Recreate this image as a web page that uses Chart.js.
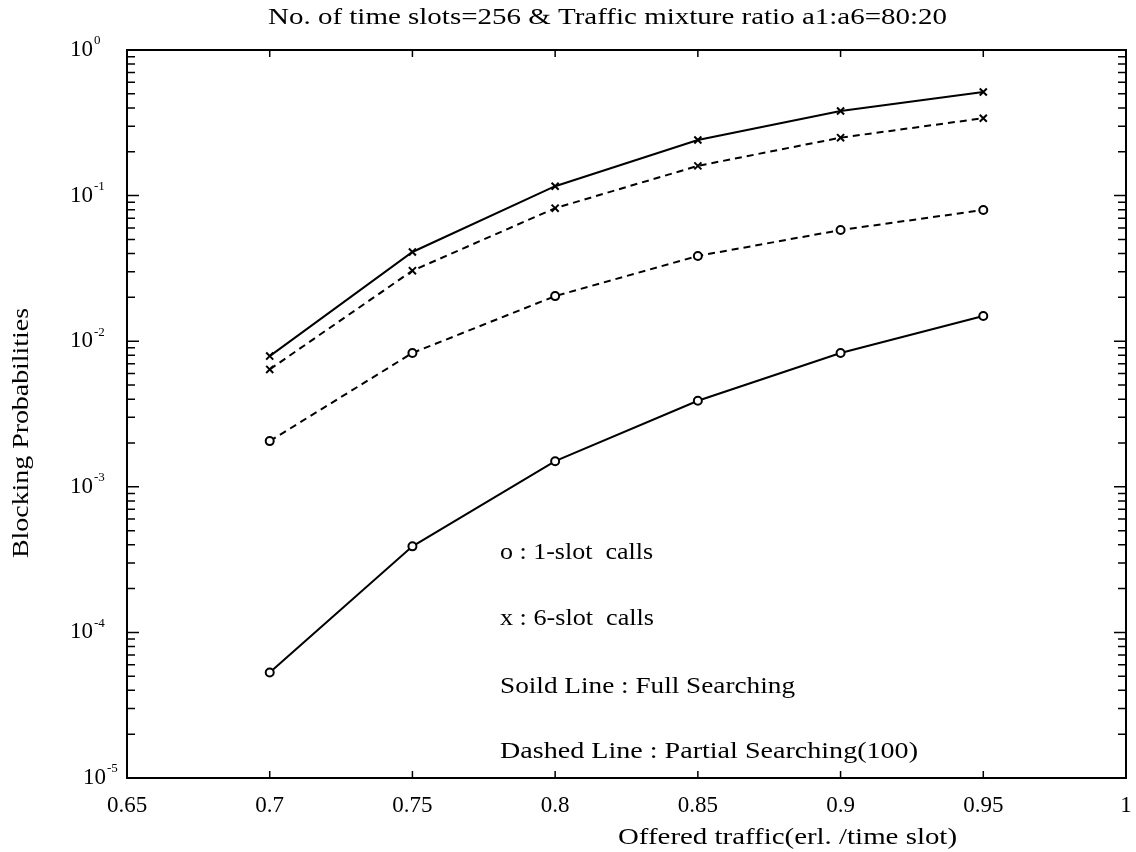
<!DOCTYPE html>
<html>
<head>
<meta charset="utf-8">
<script src="https://cdn.jsdelivr.net/npm/chart.js@4.4.1/dist/chart.umd.min.js"></script>
<style>
  html, body { margin: 0; padding: 0; background: #fff; }
  #wrap { width: 1136px; height: 852px; position: relative; }
</style>
</head>
<body>
<div id="wrap"><canvas id="chart" width="1136" height="852"></canvas></div>
<script>
// data
const traffic = [0.7, 0.75, 0.8, 0.85, 0.9, 0.95];
const fullSix = [0.0079, 0.041, 0.116, 0.241, 0.381, 0.515];
const partialSix = [0.0064, 0.0305, 0.082, 0.160, 0.250, 0.34];
const partialOne = [0.00206, 0.0083, 0.0204, 0.0385, 0.058, 0.0796];
const fullOne = [0.000053, 0.00039, 0.0015, 0.0039, 0.0083, 0.0149];

const xTicks = [0.65, 0.7, 0.75, 0.8, 0.85, 0.9, 0.95, 1];
const xTickLabels = ['0.65', '0.7', '0.75', '0.8', '0.85', '0.9', '0.95', '1'];
const yTickExps = [0, -1, -2, -3, -4, -5];

const titleText = 'No. of time slots=256 & Traffic mixture ratio a1:a6=80:20';
const xLabel = 'Offered traffic(erl. /time slot)';
const yLabel = 'Blocking Probabilities';
const noteLines = ['o : 1-slot  calls', 'x : 6-slot  calls', 'Soild Line : Full Searching', 'Dashed Line : Partial Searching(100)'];

const SERIF = '"Liberation Serif", "DejaVu Serif", serif';

function toPoints(values) {
    return traffic.map((t, i) => ({ x: t, y: values[i] }));
}

function series(values, dashed, marker) {
    return {
        data: toPoints(values),
        borderColor: '#000',
        borderWidth: 2,
        borderDash: dashed ? [7, 5] : [],
        pointStyle: marker === 'o' ? 'circle' : 'crossRot',
        pointRadius: marker === 'o' ? 4 : 5,
        pointBorderWidth: 2,
        pointBorderColor: '#000',
        pointBackgroundColor: '#fff',
        fill: false,
        tension: 0,
    };
}

// draw text left-aligned at x, stretched sideways to `width` (the scan uses a wide-set font)
function wideText(ctx, text, x, y, width) {
    const natural = ctx.measureText(text).width;
    ctx.save();
    ctx.translate(x, y);
    ctx.scale(width / natural, 1);
    ctx.fillText(text, 0, 0);
    ctx.restore();
}

// frame, inward ticks and all the text
const paperPlugin = {
    id: 'paper',
    afterDraw(chart) {
        const ctx = chart.ctx;
        const area = chart.chartArea;
        const xs = chart.scales.x;
        const ys = chart.scales.y;
        ctx.save();
        ctx.strokeStyle = '#000';
        ctx.fillStyle = '#000';
        ctx.lineWidth = 2;
        ctx.strokeRect(area.left, area.top, area.right - area.left, area.bottom - area.top);

        // log ticks on left and right
        ctx.lineWidth = 1.5;
        for (let e = -5; e < 0; e++) {
            for (let m = 1; m <= 9; m++) {
                const py = ys.getPixelForValue(m * Math.pow(10, e));
                const len = m === 1 ? 12 : 8;
                ctx.beginPath();
                ctx.moveTo(area.left, py); ctx.lineTo(area.left + len, py);
                ctx.moveTo(area.right, py); ctx.lineTo(area.right - len, py);
                ctx.stroke();
            }
        }
        // x ticks on bottom and top
        for (const t of xTicks) {
            const px = xs.getPixelForValue(t);
            ctx.beginPath();
            ctx.moveTo(px, area.bottom); ctx.lineTo(px, area.bottom - 7);
            ctx.moveTo(px, area.top); ctx.lineTo(px, area.top + 7);
            ctx.stroke();
        }

        // y tick labels 10^n
        ctx.textBaseline = 'middle';
        ctx.textAlign = 'left';
        yTickExps.forEach((e, i) => {
            const py = ys.getPixelForValue(Math.pow(10, e));
            const left = i === yTickExps.length - 1 ? 83 : 70;
            ctx.font = '23px ' + SERIF;
            ctx.fillText('10', left, py);
            const w = ctx.measureText('10').width;
            ctx.font = '13px ' + SERIF;
            ctx.fillText(String(e), left + w + 1, py - 9);
        });

        // x tick labels
        ctx.font = '23px ' + SERIF;
        ctx.textAlign = 'center';
        ctx.textBaseline = 'top';
        xTicks.forEach((t, i) => {
            ctx.fillText(xTickLabels[i], xs.getPixelForValue(t), area.bottom + 16);
        });

        ctx.textAlign = 'left';
        ctx.textBaseline = 'middle';
        // title
        ctx.font = '23px ' + SERIF;
        wideText(ctx, titleText, 268, 18, 679);

        // axis labels
        ctx.font = '23px ' + SERIF;
        wideText(ctx, xLabel, 618, 838, 339);
        ctx.save();
        ctx.translate(22, 558);
        ctx.rotate(-Math.PI / 2);
        wideText(ctx, yLabel, 0, 0, 250);
        ctx.restore();

        // notes inside the plot
        ctx.font = '23px ' + SERIF;
        const noteY = [553, 619, 687, 752];
        const noteW = [153, 154, 295, 418];
        noteLines.forEach((line, i) => wideText(ctx, line, 500, noteY[i], noteW[i]));
        ctx.restore();
    }
};

const noSize = function (scale) {
    if (scale.isHorizontal()) scale.height = 0; else scale.width = 0;
};

new Chart(document.getElementById('chart'), {
    type: 'line',
    data: {
        datasets: [
            series(fullSix, false, 'x'),
            series(partialSix, true, 'x'),
            series(partialOne, true, 'o'),
            series(fullOne, false, 'o'),
        ]
    },
    options: {
        responsive: false,
        animation: false,
        events: [],
        layout: { padding: { left: 127, top: 50, right: 10, bottom: 74 } },
        plugins: {
            legend: { display: false },
            tooltip: { enabled: false },
            title: { display: false },
        },
        scales: {
            x: {
                type: 'linear',
                min: 0.65,
                max: 1,
                grid: { display: false },
                border: { display: false },
                ticks: { display: false },
                afterFit: noSize,
            },
            y: {
                type: 'logarithmic',
                min: 1e-5,
                max: 1,
                grid: { display: false },
                border: { display: false },
                ticks: { display: false },
                afterFit: noSize,
            },
        },
    },
    plugins: [paperPlugin],
});
</script>
</body>
</html>
